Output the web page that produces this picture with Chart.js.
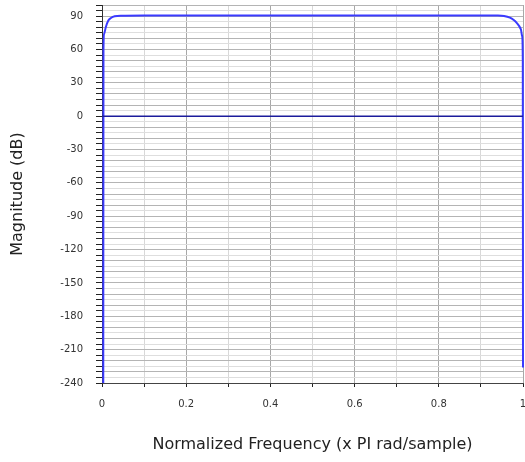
<!DOCTYPE html>
<html>
<head>
<meta charset="utf-8">
<script src="https://cdn.jsdelivr.net/npm/chart.js@4/dist/chart.umd.min.js"></script>
<style>
  html, body { margin: 0; padding: 0; background: #fff; }
  #wrap { width: 525px; height: 462px; }
</style>
</head>
<body>
<div id="wrap"><canvas id="chart" width="525" height="462"></canvas></div>
<script>
// magnitude response
const freq = [0.003, 0.0035, 0.005, 0.009, 0.015, 0.022, 0.03, 0.045, 0.1, 0.2, 0.3, 0.4, 0.5, 0.6, 0.7, 0.8, 0.9, 0.94, 0.955, 0.969, 0.978, 0.985, 0.991, 0.995, 0.998, 0.9995, 1];
const magDb = [-240, 60, 74, 80, 86, 88.5, 89.8, 90.4, 90.6, 90.6, 90.6, 90.6, 90.6, 90.6, 90.6, 90.6, 90.6, 90.5, 90.1, 88.6, 86.5, 84, 81, 78, 72, 50, -226];

// 0 dB reference line
const zeroX = [0, 1];
const zeroY = [0, 0];

// labelled ticks
const yLabels = [90, 60, 30, 0, -30, -60, -90, -120, -150, -180, -210, -240];
const xLabels = [0, 0.2, 0.4, 0.6, 0.8, 1];

const toPts = (xs, ys) => xs.map((x, i) => ({ x, y: ys[i] }));

const tickFont = { family: 'DejaVu Sans', size: 10 };
const titleFont = { family: 'DejaVu Sans', size: 16 };

// keep the plot box fixed (no extra room for end labels)
function noPad(s) {
  s.paddingTop = 0; s.paddingBottom = 0; s.paddingLeft = 0; s.paddingRight = 0;
}

new Chart(document.getElementById('chart'), {
  type: 'scatter',
  data: {
    datasets: [
      {
        data: toPts(zeroX, zeroY),
        showLine: true,
        borderColor: '#1c1c9c',
        borderWidth: 1.5,
        pointRadius: 0
      },
      {
        data: toPts(freq, magDb),
        showLine: true,
        borderColor: '#3a3aff',
        borderWidth: 2,
        pointRadius: 0,
        tension: 0.3,
        cubicInterpolationMode: 'monotone',
        clip: 2
      }
    ]
  },
  options: {
    responsive: false,
    animation: false,
    layout: { padding: { top: 5, right: 2, left: 0, bottom: 0 } },
    plugins: { legend: { display: false }, tooltip: { enabled: false } },
    scales: {
      x: {
        type: 'linear',
        min: 0, max: 1,
        afterFit: s => { s.height = 79; noPad(s); },
        ticks: {
          stepSize: 0.1,
          autoSkip: false,
          maxRotation: 0,
          padding: 11,
          color: '#333',
          font: tickFont,
          callback: v => {
            const hit = xLabels.find(l => Math.abs(l - v) < 1e-6);
            return hit === undefined ? '' : String(hit);
          }
        },
        grid: {
          color: c => (Math.round(c.tick.value * 10) % 2 === 0 ? '#a8a8a8' : '#d8d8d8'),
          tickColor: '#222',
          tickLength: 4
        },
        border: { color: '#444' },
        title: {
          display: true,
          text: 'Normalized Frequency (x PI rad/sample)',
          color: '#222',
          font: titleFont,
          padding: { top: 0, bottom: 8 }
        }
      },
      y: {
        min: -240, max: 100,
        afterFit: s => { s.width = 102; noPad(s); },
        ticks: {
          stepSize: 5,
          autoSkip: false,
          padding: 13,
          color: '#333',
          font: tickFont,
          callback: v => (yLabels.includes(v) ? String(v) : '')
        },
        grid: {
          color: c => (c.tick.value % 10 === 0 ? '#b4b4b4' : '#dedede'),
          tickColor: '#222',
          tickLength: 6
        },
        border: { color: '#333' },
        title: {
          display: true,
          text: 'Magnitude (dB)',
          color: '#222',
          font: titleFont,
          padding: { top: 8, bottom: 0 }
        }
      }
    }
  }
});
</script>
</body>
</html>
